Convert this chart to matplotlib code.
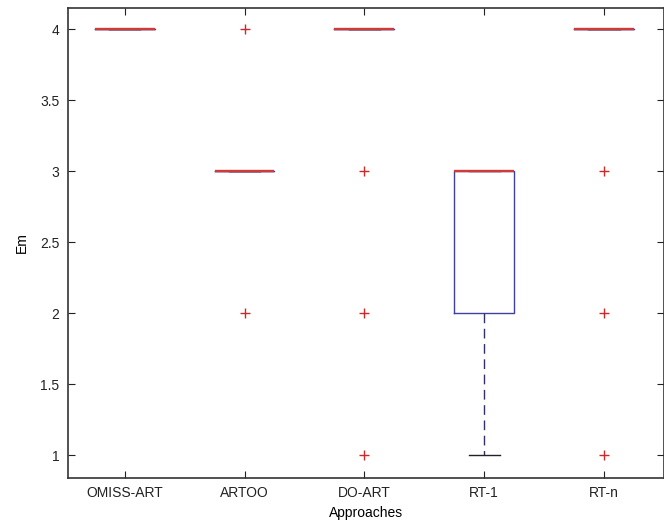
import matplotlib
matplotlib.use("Agg")
import matplotlib.pyplot as plt

plt.rcParams["font.family"] = ["Liberation Sans", "DejaVu Sans"]

approaches = ["OMISS-ART", "ARTOO", "DO-ART", "RT-1", "RT-n"]
q1 = [4, 3, 4, 2, 4]
med = [4, 3, 4, 3, 4]
q3 = [4, 3, 4, 3, 4]
whislo = [4, 3, 4, 1, 4]
whishi = [4, 3, 4, 3, 4]
fliers = [[], [4, 2], [3, 2, 1], [], [3, 2, 1]]

yticks = [1, 1.5, 2, 2.5, 3, 3.5, 4]
ytick_labels = ["1", "1.5", "2", "2.5", "3", "3.5", "4"]

stats = []
for i, name in enumerate(approaches):
    stats.append({
        "label": name, "med": med[i], "q1": q1[i], "q3": q3[i],
        "whislo": whislo[i], "whishi": whishi[i], "fliers": fliers[i],
    })

fig = plt.figure(figsize=(6.64, 5.27), dpi=100)
ax = fig.add_axes([0.102, 0.093, 0.898, 0.892])

# median drawn last so collapsed boxes look like a single red line
ax.bxp(
    stats, widths=0.5, showfliers=True,
    boxprops=dict(color="#4040a0", linewidth=1.0),
    whiskerprops=dict(color="#30306a", linewidth=1.0, linestyle=(0, (7, 4))),
    capprops=dict(color="#222222", linewidth=1.0),
    medianprops=dict(color="#d03a3a", linewidth=1.7, zorder=5),
    flierprops=dict(marker="+", markeredgecolor="#cc2a2a", markersize=7,
                    markeredgewidth=1.0, linestyle="none"),
    capwidths=0.26,
)

ax.set_xlim(0.525, 5.5)
ax.set_ylim(0.84, 4.15)
ax.set_yticks(yticks)
ax.set_yticklabels(ytick_labels)
ax.set_xticks(range(1, len(approaches) + 1))
ax.set_xticklabels(approaches)
ax.tick_params(direction="in", length=5, top=True, right=True,
               labelsize=10, colors="#222222", pad=6)
for s in ax.spines.values():
    s.set_color("#333333")
    s.set_linewidth(1.2)

ax.set_xlabel("Approaches", fontsize=10, labelpad=4)
ax.set_ylabel("Em", fontsize=10, labelpad=8)

fig.savefig("out.png", dpi=100)
